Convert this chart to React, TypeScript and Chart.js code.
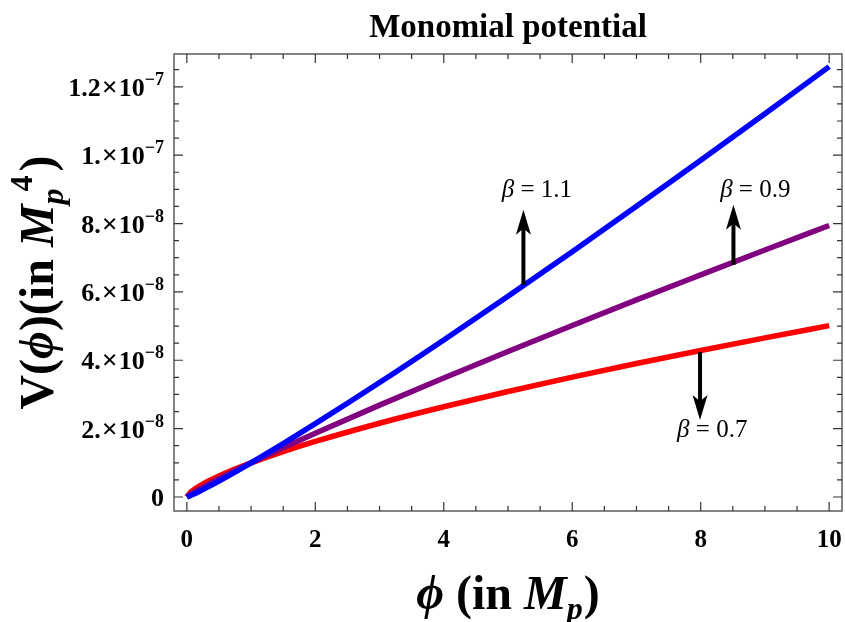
import React, { useEffect, useRef } from "react";
import { Chart, registerables } from "chart.js";

Chart.register(...registerables);

// phi values (in M_p)
const PHI = [0, 0.05, 0.1, 0.2, 0.3, 0.5, 0.75, 1, 1.5, 2, 3, 4, 5, 6, 7, 8, 9, 10];
// V(phi) in units of 1e-8 M_p^4
const V_BETA_11 = [0, 0.037, 0.079, 0.17, 0.266, 0.467, 0.729, 1, 1.562, 2.144, 3.348, 4.595, 5.873, 7.176, 8.505, 9.849, 11.21, 12.59];
const V_BETA_09 = [0, 0.068, 0.126, 0.235, 0.338, 0.536, 0.772, 1, 1.44, 1.866, 2.688, 3.482, 4.257, 5.017, 5.766, 6.498, 7.225, 7.943];
const V_BETA_07 = [0, 0.123, 0.2, 0.324, 0.431, 0.616, 0.818, 1, 1.328, 1.625, 2.158, 2.639, 3.085, 3.505, 3.905, 4.287, 4.656, 5.012];

const SERIES_NAMES = ["β = 1.1", "β = 0.9", "β = 0.7"];
const SERIES_COLORS = ["#0000ff", "#800080", "#ff0000"];

const X_TICKS = [0, 2, 4, 6, 8, 10];
const X_TICK_LABELS = ["0", "2", "4", "6", "8", "10"];
const Y_TICKS = [0, 2, 4, 6, 8, 10, 12];
const Y_TICK_MANTISSA = ["0", "2.", "4.", "6.", "8.", "1.", "1.2"];
const Y_TICK_EXPONENT = ["", "−8", "−8", "−8", "−8", "−7", "−7"];

// annotations: arrow x, arrow start y, arrow tip y ; label x, label baseline y
const ARROW_X = [5.24, 8.51, 7.99];
const ARROW_FROM = [6.2, 6.79, 4.24];
const ARROW_TO = [8.4, 8.55, 2.25];
const LABEL_TEXT = ["1.1", "0.9", "0.7"];
const LABEL_X = [5.45, 8.85, 8.18];
const LABEL_Y = [8.78, 8.78, 1.76];

const TITLE = "Monomial potential";

const SERIF = "'Liberation Serif', 'Times New Roman', 'DejaVu Serif', serif";

type Seg = { t: string; f: string; dy?: number; dx?: number };

function richWidth(ctx: CanvasRenderingContext2D, segs: Seg[]) {
  let w = 0;
  for (const s of segs) {
    ctx.font = s.f;
    w += ctx.measureText(s.t).width + (s.dx || 0);
  }
  return w;
}

function drawRich(ctx: CanvasRenderingContext2D, segs: Seg[], x: number, y: number, align: "left" | "center" | "right") {
  const w = richWidth(ctx, segs);
  let cx = align === "left" ? x : align === "center" ? x - w / 2 : x - w;
  ctx.textAlign = "left";
  for (const s of segs) {
    ctx.font = s.f;
    cx += s.dx || 0;
    ctx.fillText(s.t, cx, y + (s.dy || 0));
    cx += ctx.measureText(s.t).width;
  }
}

function drawArrow(ctx: CanvasRenderingContext2D, x: number, y1: number, y2: number) {
  const dir = y2 < y1 ? -1 : 1;
  const headLen = 25;
  const halfW = 7.5;
  ctx.beginPath();
  ctx.moveTo(x, y1);
  ctx.lineTo(x, y2 - dir * headLen * 0.7);
  ctx.lineWidth = 4;
  ctx.strokeStyle = "#000";
  ctx.stroke();
  ctx.beginPath();
  ctx.moveTo(x, y2);
  ctx.lineTo(x - halfW, y2 - dir * headLen);
  ctx.lineTo(x, y2 - dir * headLen * 0.75);
  ctx.lineTo(x + halfW, y2 - dir * headLen);
  ctx.closePath();
  ctx.fillStyle = "#000";
  ctx.fill();
}

const decor = {
  id: "decor",
  afterDatasetsDraw(chart: any) {
    const { ctx, chartArea: a, scales } = chart;
    const xs = scales.x;
    const ys = scales.y;
    ctx.save();

    // frame
    ctx.strokeStyle = "#666";
    ctx.lineWidth = 1.6;
    ctx.strokeRect(a.left, a.top, a.right - a.left, a.bottom - a.top);

    // ticks (inward, all four sides)
    ctx.strokeStyle = "#333";
    ctx.lineWidth = 1.2;
    ctx.beginPath();
    for (let v = 0; v <= 10.001; v += 0.5) {
      const px = xs.getPixelForValue(v);
      const major = Math.abs(v - Math.round(v / 2) * 2) < 1e-6;
      const len = major ? 9 : 5;
      ctx.moveTo(px, a.bottom);
      ctx.lineTo(px, a.bottom - len);
      ctx.moveTo(px, a.top);
      ctx.lineTo(px, a.top + len);
    }
    for (let v = 0; v <= 12.5001; v += 0.5) {
      const py = ys.getPixelForValue(v);
      const major = Math.abs(v - Math.round(v / 2) * 2) < 1e-6;
      const len = major ? 9 : 5;
      ctx.moveTo(a.left, py);
      ctx.lineTo(a.left + len, py);
      ctx.moveTo(a.right, py);
      ctx.lineTo(a.right - len, py);
    }
    ctx.stroke();

    ctx.fillStyle = "#000";
    ctx.textBaseline = "alphabetic";

    // x tick labels
    ctx.font = `bold 25px ${SERIF}`;
    ctx.textAlign = "center";
    X_TICKS.forEach((v, i) => {
      ctx.fillText(X_TICK_LABELS[i], xs.getPixelForValue(v), 547);
    });

    // y tick labels
    Y_TICKS.forEach((v, i) => {
      const py = ys.getPixelForValue(v);
      const segs: Seg[] = [{ t: Y_TICK_MANTISSA[i], f: `bold 26px ${SERIF}` }];
      if (Y_TICK_EXPONENT[i]) {
        segs.push({ t: "×", f: `bold 28px ${SERIF}`, dx: 1 });
        segs.push({ t: "10", f: `bold 26px ${SERIF}`, dx: 1 });
        segs.push({ t: Y_TICK_EXPONENT[i], f: `bold 18px ${SERIF}`, dy: -11 });
      }
      drawRich(ctx, segs, a.left - 10, py + 9, "right");
    });

    // title
    ctx.font = `bold 33px ${SERIF}`;
    ctx.textAlign = "center";
    ctx.fillText(TITLE, (a.left + a.right) / 2, 37);

    // x axis title
    const big = `bold 48px ${SERIF}`;
    const bigI = `italic bold 48px ${SERIF}`;
    const small = `bold 32px ${SERIF}`;
    const smallI = `italic bold 32px ${SERIF}`;
    drawRich(
      ctx,
      [
        { t: "ϕ", f: bigI },
        { t: " (in ", f: big },
        { t: "M", f: bigI },
        { t: "p", f: smallI, dy: 10 },
        { t: ")", f: big, dx: 1 },
      ],
      (a.left + a.right) / 2,
      609,
      "center"
    );

    // y axis title
    ctx.save();
    ctx.translate(53, (a.top + a.bottom) / 2);
    ctx.rotate(-Math.PI / 2);
    drawRich(
      ctx,
      [
        { t: "V(", f: big },
        { t: "ϕ", f: bigI },
        { t: ")(in ", f: big },
        { t: "M", f: bigI },
        { t: "p", f: smallI, dy: 10 },
        { t: "4", f: small, dy: -21, dx: -3 },
        { t: ")", f: big, dx: 4 },
      ],
      0,
      0,
      "center"
    );
    ctx.restore();

    // arrows
    ARROW_X.forEach((xv, i) => {
      drawArrow(ctx, xs.getPixelForValue(xv), ys.getPixelForValue(ARROW_FROM[i]), ys.getPixelForValue(ARROW_TO[i]));
    });

    // beta labels
    ctx.fillStyle = "#000";
    LABEL_TEXT.forEach((t, i) => {
      drawRich(
        ctx,
        [
          { t: "β", f: `italic 25px ${SERIF}` },
          { t: " = " + t, f: `25px ${SERIF}` },
        ],
        xs.getPixelForValue(LABEL_X[i]),
        ys.getPixelForValue(LABEL_Y[i]),
        "center"
      );
    });

    ctx.restore();
  },
};

export default function App() {
  const ref = useRef<HTMLCanvasElement | null>(null);

  useEffect(() => {
    document.body.style.margin = "0";
    const canvas = ref.current;
    if (!canvas) return;
    const series = [V_BETA_11, V_BETA_09, V_BETA_07];
    const chart = new Chart(canvas, {
      type: "line",
      data: {
        datasets: series.map((vals, i) => ({
          label: SERIES_NAMES[i],
          data: PHI.map((p, j) => ({ x: p, y: vals[j] })),
          borderColor: SERIES_COLORS[i],
          backgroundColor: SERIES_COLORS[i],
          borderWidth: 5.5,
          pointRadius: 0,
          cubicInterpolationMode: "monotone" as const,
          fill: false,
        })),
      },
      options: {
        animation: false,
        responsive: true,
        maintainAspectRatio: false,
        layout: { padding: { top: 54, right: 3, left: 0, bottom: 0 } },
        plugins: {
          legend: { display: false },
          title: { display: false },
          tooltip: { enabled: false },
        },
        scales: {
          x: {
            type: "linear",
            min: -0.2,
            max: 10.2,
            grid: { display: false },
            border: { display: false },
            ticks: { display: false },
            afterFit: (s: any) => {
              s.height = 111;
            },
          },
          y: {
            type: "linear",
            min: -0.41,
            max: 12.96,
            grid: { display: false },
            border: { display: false },
            ticks: { display: false },
            afterFit: (s: any) => {
              s.width = 174;
            },
          },
        },
      },
      plugins: [decor],
    });
    return () => chart.destroy();
  }, []);

  return (
    <div style={{ position: "relative", width: 845, height: 622, background: "#fff" }}>
      <canvas ref={ref} />
    </div>
  );
}
